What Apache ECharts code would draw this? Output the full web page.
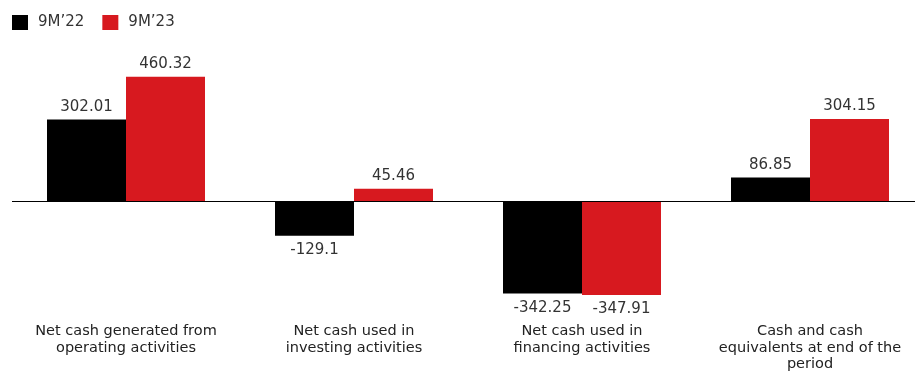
<!DOCTYPE html>
<html>
<head>
<meta charset="utf-8">
<script src="https://cdn.jsdelivr.net/npm/echarts@6/dist/echarts.min.js"></script>
<style>
  html, body { margin: 0; padding: 0; background: #fff; }
  #chart { width: 915px; height: 373px; }
</style>
</head>
<body>
<div id="chart"></div>
<script>
const categories = [
  'Net cash generated from\noperating activities',
  'Net cash used in\ninvesting activities',
  'Net cash used in\nfinancing activities',
  'Cash and cash\nequivalents at end of the\nperiod'
]
const series22 = [302.01, -129.1, -342.25, 86.85]
const series23 = [460.32, 45.46, -347.91, 304.15]
const seriesNames = ['9M\u201922', '9M\u201923']

const chart = echarts.init(document.getElementById('chart'))

// 负值标签放到柱子下方
const withLabels = (values) =>
  values.map((v) => ({
    value: v,
    label: { position: v < 0 ? 'bottom' : 'top', distance: v < 0 ? 7 : 5 },
  }))

const option = {
  animation: false,
  textStyle: { fontFamily: 'DejaVu Sans' },
  legend: {
    data: seriesNames,
    left: 7,
    top: 10,
    itemWidth: 16,
    itemHeight: 15,
    itemGap: 18,
    icon: 'rect',
    textStyle: { fontSize: 15, color: '#333', padding: [0, 0, 0, 5] },
  },
  grid: {
    left: 12,
    width: 912,
    top: 66,
    bottom: 64,
    outerBoundsMode: 'none',
    containLabel: false,
  },
  xAxis: {
    type: 'category',
    data: categories,
    axisLine: { show: false },
    axisTick: { show: false },
    axisLabel: {
      interval: 0,
      margin: 14,
      fontSize: 14.5,
      lineHeight: 16.5,
      color: '#222',
    },
  },
  yAxis: {
    type: 'value',
    min: -400,
    max: 500,
    show: false,
    splitLine: { show: false },
  },
  series: [
    {
      name: seriesNames[0],
      type: 'bar',
      barWidth: 79,
      barGap: '0%',
      itemStyle: { color: '#000000' },
      label: { show: true, fontSize: 15, color: '#333' },
      data: withLabels(series22),
      markLine: {
        silent: true,
        symbol: 'none',
        label: { show: false },
        lineStyle: { color: '#000', width: 1, type: 'solid' },
        data: [{ yAxis: 0 }],
      },
    },
    {
      name: seriesNames[1],
      type: 'bar',
      barWidth: 79,
      barGap: '0%',
      itemStyle: { color: '#d7191f' },
      label: { show: true, fontSize: 15, color: '#333' },
      data: withLabels(series23),
    },
  ],
}

chart.setOption(option)
</script>
</body>
</html>
